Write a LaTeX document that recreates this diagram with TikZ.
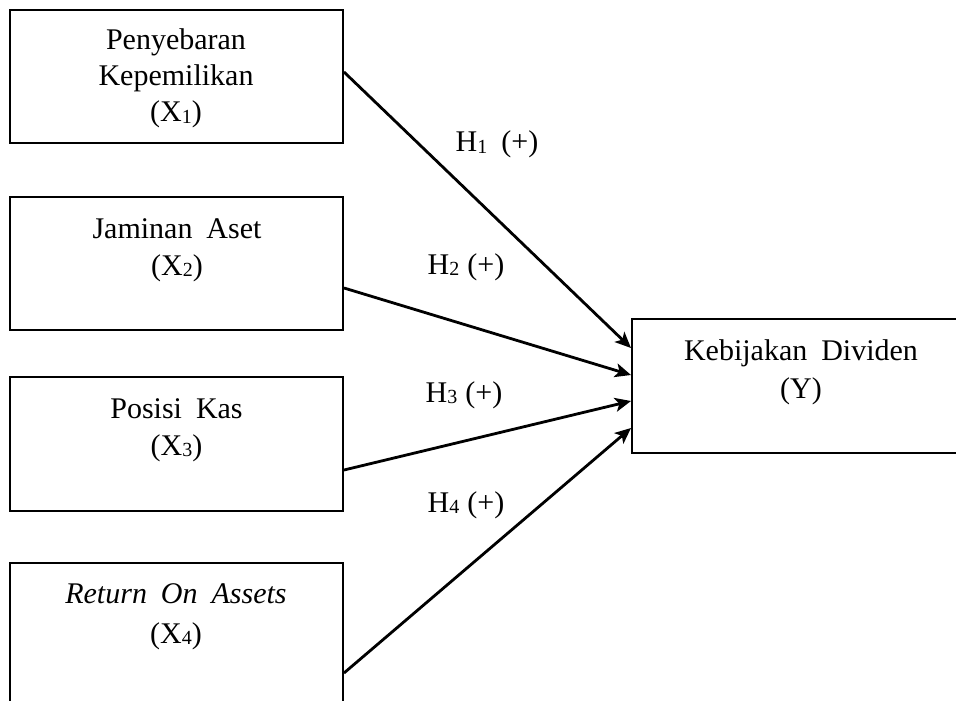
\documentclass[tikz,border=0pt]{standalone}
\usepackage{fontspec}
\setmainfont{Liberation Serif}
\usetikzlibrary{arrows.meta}
\newcommand{\sbs}[1]{\raisebox{-0.8pt}{\fontsize{10}{10}\selectfont #1}}
\newcommand{\widesp}{\spaceskip=7pt plus 1pt minus 1pt\relax}
\begin{document}
\begin{tikzpicture}[x=0.5pt,y=-0.5pt,
  box/.style={draw, line width=1pt, inner sep=0pt, minimum width=166.5pt},
  txt/.style={anchor=base, inner sep=0pt, font=\fontsize{15}{18}\selectfont\widesp},
  lbl/.style={anchor=base, inner sep=0pt, font=\fontsize{15}{18}\selectfont},
  arr/.style={line width=1.4pt, -{Stealth[length=8pt,width=7pt,inset=2pt]}}]
\useasboundingbox (0,0) rectangle (956,700);
\clip (0,0) rectangle (956,700);
% boxes
\node[box, minimum height=66.5pt] (x1) at (176.5,76.5) {};
\node[box, minimum height=66.5pt] (x2) at (176.5,263.5) {};
\node[box, minimum height=67pt] (x3) at (176.5,444) {};
\node[box, minimum height=78.5pt] (x4) at (176.5,641.5) {};
\node[box, minimum width=169pt, minimum height=67pt] (y) at (801,386) {};
% texts
\node[txt] (t1a) at (176,50) {Penyebaran};
\node[txt] (t1b) at (176,86) {Kepemilikan};
\node[txt] (t1c) at (176,122) {(X\sbs{1})};
\node[txt] (t2a) at (177,238) {Jaminan Aset};
\node[txt] (t2b) at (177,275) {(X\sbs{2})};
\node[txt] (t3a) at (176.5,418) {Posisi Kas};
\node[txt] (t3b) at (176.5,455) {(X\sbs{3})};
\node[txt] (t4a) at (176,603) {\itshape Return On Assets};
\node[txt] (t4b) at (176,643) {(X\sbs{4})};
\node[txt] (tya) at (801,360) {Kebijakan Dividen};
\node[txt] (tyb) at (801,398) {(Y)};
% arrows
\draw[arr] ([yshift=2.25pt]x1.east) -- ([yshift=19pt]y.west);
\draw[arr] ([yshift=-12.25pt]x2.east) -- ([yshift=5.5pt]y.west);
\draw[arr] ([yshift=-13pt]x3.east) -- ([yshift=-7.5pt]y.west);
\draw[arr] ([yshift=-15.75pt]x4.east) -- ([yshift=-21pt]y.west);
% labels
\node[lbl] (h1) at (497,152) {H\sbs{1}\hspace{7pt}(+)};
\node[lbl] (h2) at (466,274) {H\sbs{2}\hspace{4pt}(+)};
\node[lbl] (h3) at (464,402) {H\sbs{3}\hspace{4pt}(+)};
\node[lbl] (h4) at (466,512) {H\sbs{4}\hspace{4pt}(+)};
\end{tikzpicture}
\end{document}
